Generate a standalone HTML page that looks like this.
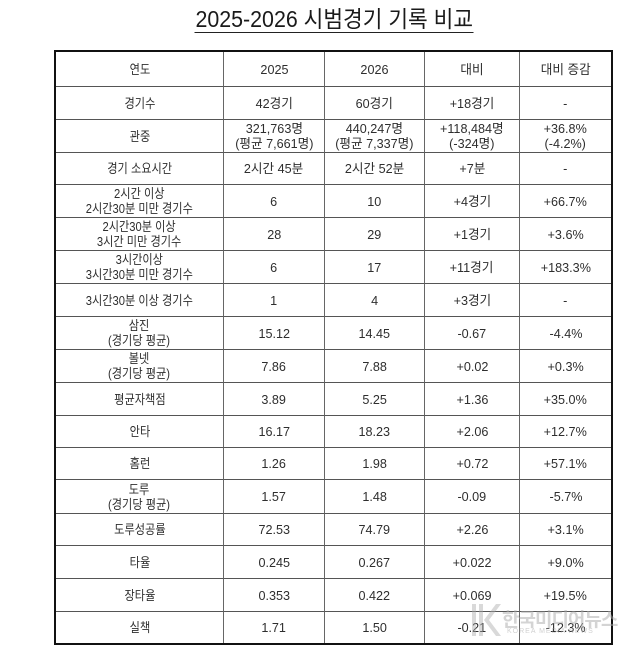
<!DOCTYPE html>
<html><head><meta charset="utf-8">
<style>
html,body{margin:0;padding:0;background:#fff;}
body{width:641px;height:654px;position:relative;overflow:hidden;font-family:"Liberation Sans","Noto Sans CJK KR",sans-serif;color:#2e2e2e;}
.title{position:absolute;left:14px;top:4px;width:641px;text-align:center;font-size:23px;line-height:30px;color:#1a1a1a;}
.title span{display:inline-block;transform:scaleX(0.93);border-bottom:1.5px solid #222;line-height:26px;padding:0 1px;}
.grid{position:absolute;left:54px;top:50px;width:559px;height:595px;box-sizing:border-box;border:2px solid #111;display:grid;
grid-template-columns:168px 101px 100px 95px 91px;
grid-template-rows:35px 33px 33px 32px 33px 33px 33px 33px 33px 33px 33px 32px 32px 34px 32px 33px 33px 31px;}
.c{box-sizing:border-box;border-right:1px solid #666;border-bottom:1px solid #555;display:flex;align-items:center;justify-content:center;text-align:center;font-size:13px;line-height:15px;}
.c:nth-child(5n){border-right:none;}
.last{border-bottom:none;}
.t{display:inline-block;transform:scaleX(0.97);white-space:nowrap;}
.c:nth-child(5n+1) .t{transform:scaleX(0.86);}
.wm{position:absolute;left:502px;top:605px;font-size:19px;font-weight:bold;color:rgba(170,170,170,0.5);letter-spacing:-1px;white-space:nowrap;}
.wm2{position:absolute;left:507px;top:628px;font-size:7px;color:rgba(170,170,170,0.55);letter-spacing:1px;}
.logo{position:absolute;left:470px;top:602px;width:32px;height:36px;}
</style></head><body>
<div class="title"><span>2025-2026 시범경기 기록 비교</span></div>
<div class="grid">
<div class="c"><span class="t">연도</span></div><div class="c"><span class="t">2025</span></div><div class="c"><span class="t">2026</span></div><div class="c"><span class="t">대비</span></div><div class="c"><span class="t">대비 증감</span></div>

<div class="c"><span class="t">경기수</span></div><div class="c"><span class="t">42경기</span></div><div class="c"><span class="t">60경기</span></div><div class="c"><span class="t">+18경기</span></div><div class="c"><span class="t">-</span></div>

<div class="c"><span class="t">관중</span></div><div class="c"><span class="t">321,763명<br>(평균 7,661명)</span></div><div class="c"><span class="t">440,247명<br>(평균 7,337명)</span></div><div class="c"><span class="t">+118,484명<br>(-324명)</span></div><div class="c"><span class="t">+36.8%<br>(-4.2%)</span></div>

<div class="c"><span class="t">경기 소요시간</span></div><div class="c"><span class="t">2시간 45분</span></div><div class="c"><span class="t">2시간 52분</span></div><div class="c"><span class="t">+7분</span></div><div class="c"><span class="t">-</span></div>

<div class="c"><span class="t">2시간 이상<br>2시간30분 미만 경기수</span></div><div class="c"><span class="t">6</span></div><div class="c"><span class="t">10</span></div><div class="c"><span class="t">+4경기</span></div><div class="c"><span class="t">+66.7%</span></div>

<div class="c"><span class="t">2시간30분 이상<br>3시간 미만 경기수</span></div><div class="c"><span class="t">28</span></div><div class="c"><span class="t">29</span></div><div class="c"><span class="t">+1경기</span></div><div class="c"><span class="t">+3.6%</span></div>

<div class="c"><span class="t">3시간이상<br>3시간30분 미만 경기수</span></div><div class="c"><span class="t">6</span></div><div class="c"><span class="t">17</span></div><div class="c"><span class="t">+11경기</span></div><div class="c"><span class="t">+183.3%</span></div>

<div class="c"><span class="t">3시간30분 이상 경기수</span></div><div class="c"><span class="t">1</span></div><div class="c"><span class="t">4</span></div><div class="c"><span class="t">+3경기</span></div><div class="c"><span class="t">-</span></div>

<div class="c"><span class="t">삼진<br>(경기당 평균)</span></div><div class="c"><span class="t">15.12</span></div><div class="c"><span class="t">14.45</span></div><div class="c"><span class="t">-0.67</span></div><div class="c"><span class="t">-4.4%</span></div>

<div class="c"><span class="t">볼넷<br>(경기당 평균)</span></div><div class="c"><span class="t">7.86</span></div><div class="c"><span class="t">7.88</span></div><div class="c"><span class="t">+0.02</span></div><div class="c"><span class="t">+0.3%</span></div>

<div class="c"><span class="t">평균자책점</span></div><div class="c"><span class="t">3.89</span></div><div class="c"><span class="t">5.25</span></div><div class="c"><span class="t">+1.36</span></div><div class="c"><span class="t">+35.0%</span></div>

<div class="c"><span class="t">안타</span></div><div class="c"><span class="t">16.17</span></div><div class="c"><span class="t">18.23</span></div><div class="c"><span class="t">+2.06</span></div><div class="c"><span class="t">+12.7%</span></div>

<div class="c"><span class="t">홈런</span></div><div class="c"><span class="t">1.26</span></div><div class="c"><span class="t">1.98</span></div><div class="c"><span class="t">+0.72</span></div><div class="c"><span class="t">+57.1%</span></div>

<div class="c"><span class="t">도루<br>(경기당 평균)</span></div><div class="c"><span class="t">1.57</span></div><div class="c"><span class="t">1.48</span></div><div class="c"><span class="t">-0.09</span></div><div class="c"><span class="t">-5.7%</span></div>

<div class="c"><span class="t">도루성공률</span></div><div class="c"><span class="t">72.53</span></div><div class="c"><span class="t">74.79</span></div><div class="c"><span class="t">+2.26</span></div><div class="c"><span class="t">+3.1%</span></div>

<div class="c"><span class="t">타율</span></div><div class="c"><span class="t">0.245</span></div><div class="c"><span class="t">0.267</span></div><div class="c"><span class="t">+0.022</span></div><div class="c"><span class="t">+9.0%</span></div>

<div class="c"><span class="t">장타율</span></div><div class="c"><span class="t">0.353</span></div><div class="c"><span class="t">0.422</span></div><div class="c"><span class="t">+0.069</span></div><div class="c"><span class="t">+19.5%</span></div>

<div class="c last"><span class="t">실책</span></div><div class="c last"><span class="t">1.71</span></div><div class="c last"><span class="t">1.50</span></div><div class="c last"><span class="t">-0.21</span></div><div class="c last"><span class="t">-12.3%</span></div>
</div>
<svg class="logo" viewBox="0 0 32 36"><g fill="rgba(170,170,170,0.45)"><rect x="2" y="2" width="4" height="32"/><rect x="9" y="2" width="4" height="32"/><polygon points="14,18 26,2 31,2 19,18 31,34 26,34"/></g></svg>
<div class="wm">한국미디어뉴스</div>
<div class="wm2">KOREA MEDIA NEWS</div>
</body></html>
